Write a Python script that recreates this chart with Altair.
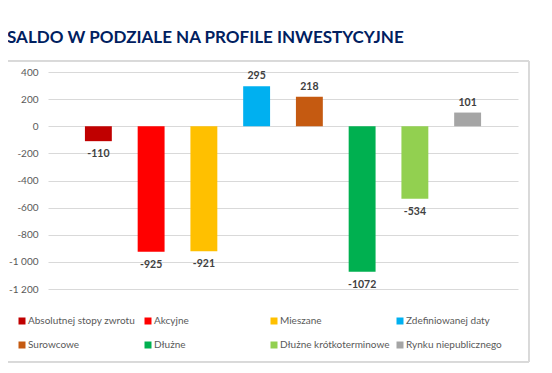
import altair as alt
import pandas as pd

categories = ["Absolutnej stopy zwrotu", "Akcyjne", "Mieszane", "Zdefiniowanej daty",
              "Surowcowe", "Dłużne", "Dłużne krótkoterminowe", "Rynku niepublicznego"]
values = [-110, -925, -921, 295, 218, -1072, -534, 101]
colors = ["#C00000", "#FF0000", "#FFC000", "#00B0F0",
          "#C55A11", "#00B050", "#92D050", "#A5A5A5"]
y_ticks = [400, 200, 0, -200, -400, -600, -800, -1000, -1200]

FONT = "Lato"

df = pd.DataFrame({"cat": categories, "v": values})

x = alt.X("cat:N", sort=categories, axis=None,
          scale=alt.Scale(paddingInner=0.49, paddingOuter=0.7))
y = alt.Y("v:Q", title=None,
          scale=alt.Scale(domain=[-1200, 400], nice=False, zero=True),
          axis=alt.Axis(values=y_ticks, domain=False, ticks=False, grid=True,
                        gridColor="#d9d9d9", gridWidth=1,
                        labelColor="#595959", labelFontSize=10, labelFont=FONT,
                        labelPadding=10,
                        labelExpr="replace(replace(format(datum.value, ','), ',', ' '), '\u2212', '-')"))

frame = alt.Chart(df).mark_rect(fill=None, stroke="#d9d9d9", strokeWidth=1).encode(
    x=alt.value(-43), x2=alt.value(481), y=alt.value(-11), y2=alt.value(290))

bars = alt.Chart(df).mark_bar().encode(
    x=x, y=y,
    color=alt.Color("cat:N", sort=categories,
                    scale=alt.Scale(domain=categories, range=colors),
                    legend=alt.Legend(title=None, orient="none", legendX=-31, legendY=244,
                                      columns=4, gridAlign="all", direction="horizontal",
                                      symbolType="square", symbolSize=49,
                                      symbolStrokeWidth=0,
                                      labelFont=FONT, labelFontSize=10,
                                      labelColor="#595959", labelOffset=1,
                                      columnPadding=5, rowPadding=14, labelLimit=200)))

base_text = alt.Chart(df).transform_calculate(lab="toString(datum.v)")
pos_text = base_text.transform_filter("datum.v >= 0").mark_text(
    baseline="bottom", dy=-5, font=FONT, fontSize=10.5, fontWeight="bold", color="#404040"
).encode(x=x, y=y, text="lab:N")
neg_text = base_text.transform_filter("datum.v < 0").mark_text(
    baseline="top", dy=8, font=FONT, fontSize=10.5, fontWeight="bold", color="#404040"
).encode(x=x, y=y, text="lab:N")

chart = alt.layer(frame, bars, pos_text, neg_text).properties(
    width=470, height=217,
    autosize=alt.AutoSizeParams(type="none"),
    padding={"left": 40, "top": 64, "right": 26, "bottom": 76},
    title=alt.TitleParams("SALDO W PODZIALE NA PROFILE INWESTYCYJNE", anchor="start",
                          frame="group", dx=-41, offset=14, font=FONT, fontSize=17,
                          fontWeight="bold", color="#002060"),
).configure_view(stroke=None)

chart.save("out.html", embed_options={"renderer": "svg", "actions": False})
